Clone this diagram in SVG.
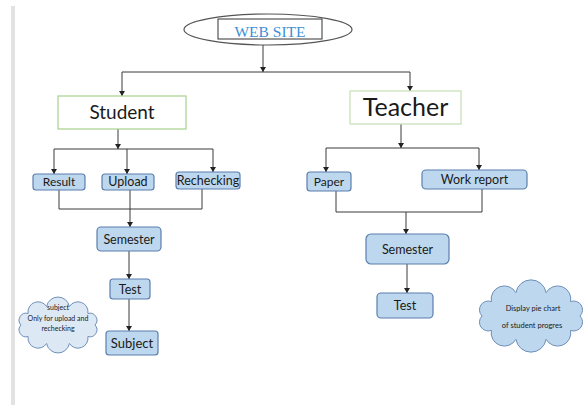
<svg xmlns="http://www.w3.org/2000/svg" width="584" height="405" viewBox="0 0 584 405">
<style>
.node{fill:#bdd7ee;stroke:#5a7fad;stroke-width:1.2}
.lbl{font-family:Lato,"Liberation Sans",sans-serif;fill:#1a1a1a;text-anchor:middle}
.con{stroke:#3a3a3a;stroke-width:1;fill:none}
.arr{marker-end:url(#ah)}
</style>
<defs>
<marker id="ah" markerUnits="userSpaceOnUse" markerWidth="6" markerHeight="6" refX="5" refY="3" orient="auto">
<path d="M0,0 L5,3 L0,6 z" fill="#222"/>
</marker>
</defs>
<rect width="584" height="405" fill="#fff"/>
<rect x="11" y="6" width="4" height="399" fill="#e2e2e2"/>

<g id="connectors">
<path class="con arr" d="M263,45 V72"/>
<path class="con" d="M122,72 H410"/>
<path class="con arr" d="M122,72 V96"/>
<path class="con arr" d="M410,72 V91"/>
<path class="con arr" d="M118,129 V149"/>
<path class="con" d="M54,149 H213"/>
<path class="con arr" d="M54,149 V174"/>
<path class="con arr" d="M127,149 V174"/>
<path class="con arr" d="M213,149 V172"/>
<path class="con" d="M59,190 V209 H202 V189"/>
<path class="con arr" d="M130,190 V227"/>
<path class="con arr" d="M129,251 V279"/>
<path class="con arr" d="M129,299 V331"/>
<path class="con arr" d="M401,124 V148"/>
<path class="con" d="M326,148 H479"/>
<path class="con arr" d="M326,148 V172"/>
<path class="con arr" d="M479,148 V170"/>
<path class="con" d="M336,191 V212 H482 V189"/>
<path class="con arr" d="M406,212 V234"/>
<path class="con arr" d="M407,264 V293"/>
</g>

<g id="website">
<ellipse cx="268" cy="29.5" rx="84" ry="15.5" fill="#fff" stroke="#555" stroke-width="1.2"/>
<rect x="218" y="19" width="104" height="20" fill="#fff" stroke="#333" stroke-width="1"/>
<text x="270" y="36.5" font-family="'Liberation Serif',serif" font-size="15.5" fill="#3d8fd3" text-anchor="middle">WEB SITE</text>
</g>

<g id="student">
<rect x="58" y="96" width="128" height="33" fill="#fff" stroke="#a9d18e" stroke-width="1.2"/>
<text class="lbl" x="122" y="119" font-size="19">Student</text>
</g>
<g id="teacher">
<rect x="350" y="91" width="111" height="33" fill="#fff" stroke="#c5e0b4" stroke-width="1.2"/>
<text class="lbl" x="405.5" y="116" font-size="25">Teacher</text>
</g>

<g id="result"><rect class="node" x="33" y="174" width="52" height="16" rx="3"/><text class="lbl" x="59" y="186.3" font-size="12">Result</text></g>
<g id="upload"><rect class="node" x="102" y="174" width="52" height="16" rx="3"/><text class="lbl" x="128" y="186.3" font-size="12.5">Upload</text></g>
<g id="rechecking"><rect class="node" x="176" y="172" width="64" height="17" rx="3"/><text class="lbl" x="208" y="184.8" font-size="12.5">Rechecking</text></g>
<g id="semester-s"><rect class="node" x="97" y="227" width="64" height="24" rx="4"/><text class="lbl" x="129" y="243.5" font-size="12.5">Semester</text></g>
<g id="test-s"><rect class="node" x="110" y="279" width="40" height="20" rx="3"/><text class="lbl" x="130" y="293.5" font-size="12.5">Test</text></g>
<g id="subject"><rect class="node" x="106" y="331" width="52" height="24" rx="3"/><text class="lbl" x="132" y="347.5" font-size="13">Subject</text></g>

<g id="paper"><rect class="node" x="307" y="172" width="44" height="19" rx="3"/><text class="lbl" x="329" y="185.8" font-size="12">Paper</text></g>
<g id="workreport"><rect class="node" x="422" y="170" width="105" height="19" rx="4"/><text class="lbl" x="474.5" y="184" font-size="12.5">Work report</text></g>
<g id="semester-t"><rect class="node" x="366" y="234" width="83" height="30" rx="5"/><text class="lbl" x="407.5" y="253.5" font-size="12.5">Semester</text></g>
<g id="test-t"><rect class="node" x="377" y="293" width="56" height="25" rx="4"/><text class="lbl" x="405" y="310" font-size="12.5">Test</text></g>

<g id="cloud-left">
<path d="M95,325 A7,7 0 0 1 87.9,336.5 A10.1,10.1 0 0 1 69.4,343.5 A11.6,11.6 0 0 1 46.6,343.5 A10.1,10.1 0 0 1 28.1,336.5 A7,7 0 0 1 21,325 A7,7 0 0 1 28.1,313.5 A10.1,10.1 0 0 1 46.6,306.5 A11.6,11.6 0 0 1 69.4,306.5 A10.1,10.1 0 0 1 87.9,313.5 A7,7 0 0 1 95,325 Z" fill="#dde8f5" stroke="#6f8fba" stroke-width="1"/>
<text class="lbl" x="58" y="310" font-size="7">subject</text>
<text class="lbl" x="58" y="321" font-size="7">Only for upload and</text>
<text class="lbl" x="58" y="331" font-size="7">rechecking</text>
</g>

<g id="cloud-right">
<path d="M580,316 A8.8,8.8 0 0 1 570.6,330.4 A13.2,13.2 0 0 1 546.1,339.3 A15.3,15.3 0 0 1 515.9,339.3 A13.2,13.2 0 0 1 491.4,330.4 A8.8,8.8 0 0 1 482,316 A8.8,8.8 0 0 1 491.4,301.6 A13.2,13.2 0 0 1 515.9,292.7 A15.3,15.3 0 0 1 546.1,292.7 A13.2,13.2 0 0 1 570.6,301.6 A8.8,8.8 0 0 1 580,316 Z" fill="#bdd7ee" stroke="#6f8fba" stroke-width="1"/>
<text class="lbl" x="533" y="311" font-size="7.5">Display pie chart</text>
<text class="lbl" x="532" y="328" font-size="7.5">of student progres</text>
</g>
</svg>
